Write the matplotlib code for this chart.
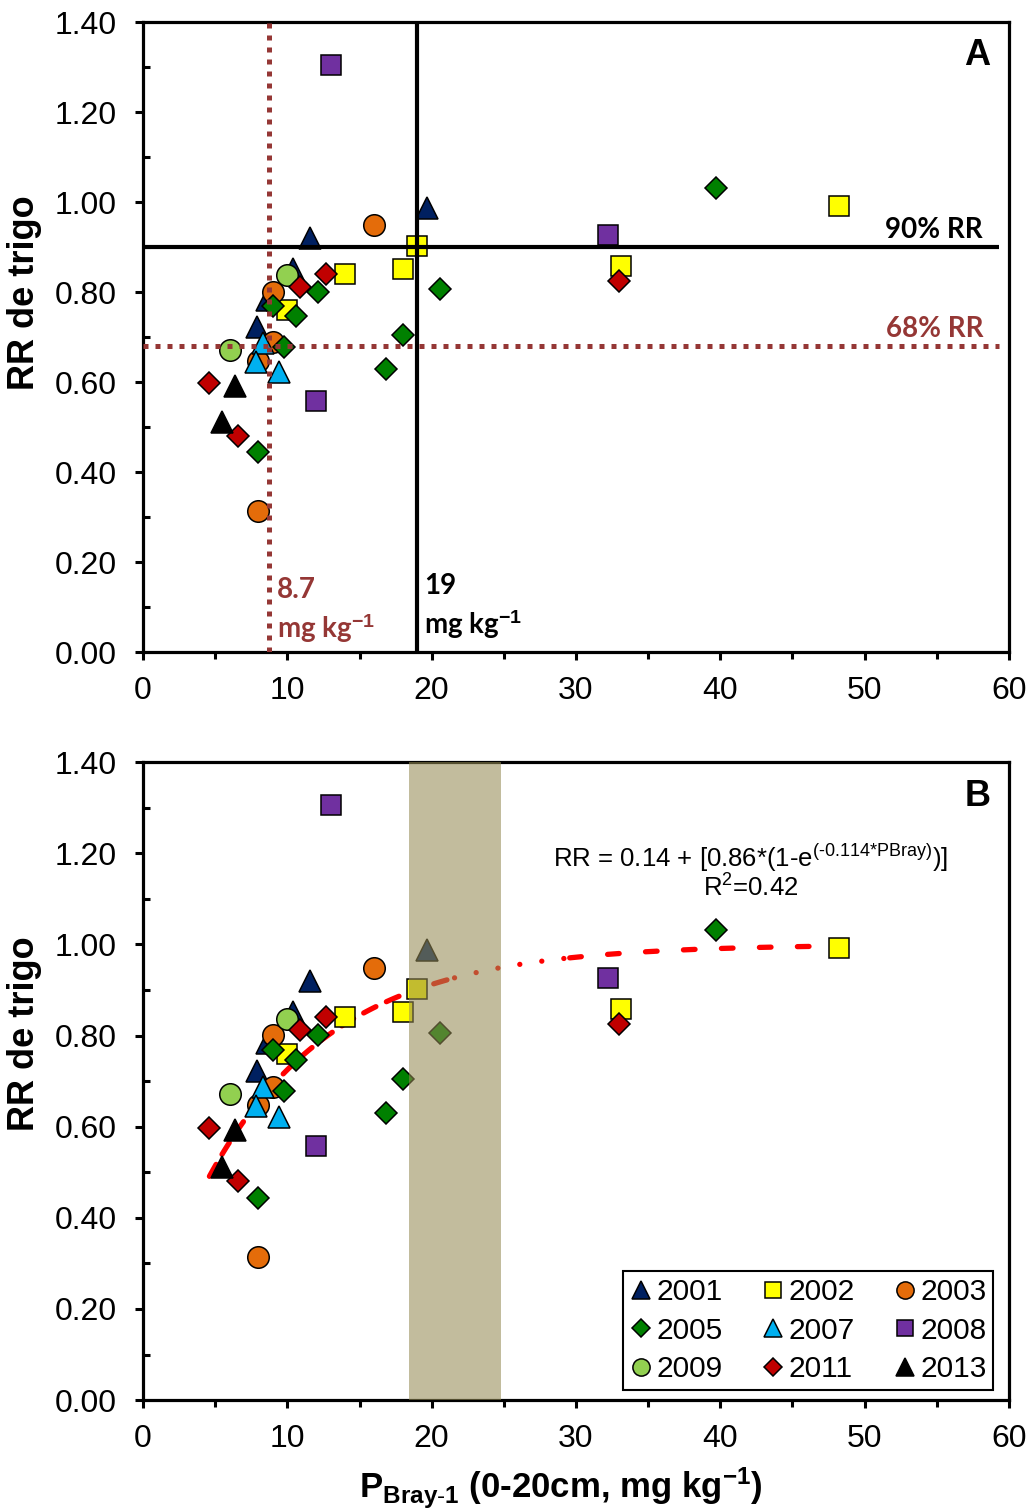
import matplotlib.pyplot as plt
from matplotlib.ticker import MultipleLocator, FormatStrFormatter
from matplotlib.lines import Line2D
import numpy as np

plt.rcParams['font.family'] = ['Liberation Sans', 'DejaVu Sans']
plt.rcParams['mathtext.fontset'] = 'custom'
plt.rcParams['mathtext.rm'] = 'Liberation Sans'
plt.rcParams['mathtext.it'] = 'Liberation Sans'
plt.rcParams['mathtext.bf'] = 'Liberation Sans:bold'
plt.rcParams['mathtext.default'] = 'regular'

# soil P Bray-1 (mg/kg) and relative yield of wheat, by campaign
p_2001 = [19.7, 11.6, 10.4, 8.6, 7.9]
rr_2001 = [0.987, 0.920, 0.852, 0.783, 0.723]
p_2002 = [19.0, 18.0, 14.0, 10.0, 48.2, 33.1]
rr_2002 = [0.903, 0.851, 0.841, 0.759, 0.992, 0.858]
p_2003 = [16.0, 9.0, 9.0, 8.0, 8.0]
rr_2003 = [0.949, 0.801, 0.688, 0.647, 0.314]
p_2005 = [20.6, 12.1, 9.0, 10.6, 9.8, 18.0, 16.8, 8.0, 39.7]
rr_2005 = [0.806, 0.801, 0.768, 0.746, 0.678, 0.704, 0.629, 0.444, 1.031]
p_2007 = [8.3, 7.8, 9.4]
rr_2007 = [0.686, 0.645, 0.622]
p_2008 = [13.0, 12.0, 32.2]
rr_2008 = [1.305, 0.558, 0.926]
p_2009 = [10.0, 6.0]
rr_2009 = [0.837, 0.671]
p_2011 = [12.7, 10.9, 4.6, 6.6, 33.0]
rr_2011 = [0.840, 0.812, 0.598, 0.481, 0.825]
p_2013 = [6.4, 5.5]
rr_2013 = [0.592, 0.512]

years = ['2001', '2002', '2003', '2005', '2007', '2008', '2009', '2011', '2013']
p_vals = [p_2001, p_2002, p_2003, p_2005, p_2007, p_2008, p_2009, p_2011, p_2013]
rr_vals = [rr_2001, rr_2002, rr_2003, rr_2005, rr_2007, rr_2008, rr_2009, rr_2011, rr_2013]
markers = ['^', 's', 'o', 'D', '^', 's', 'o', 'D', '^']
colors = ['#002060', '#FFFF00', '#E46C0A', '#008000', '#00B0F0',
          '#7030A0', '#92D050', '#C00000', '#000000']
sizes = {'^': 16, 's': 15, 'o': 15.5, 'D': 11}

# critical thresholds
p_crit_68 = 8.7
p_crit_90 = 19
rr_68 = 0.68
rr_90 = 0.90

# Mitscherlich fit
a_fit, b_fit, c_fit = 0.14, 0.86, 0.114
r2_fit = 0.42

brown = '#953735'

fig = plt.figure(figsize=(10.32, 15.10), dpi=100)
axA = fig.add_axes([0.1386, 0.5682, 0.8391, 0.4172])
axB = fig.add_axes([0.1386, 0.0728, 0.8391, 0.4225])


def style_axes(ax):
    ax.set_xlim(0, 60)
    ax.set_ylim(0, 1.40)
    ax.xaxis.set_major_locator(MultipleLocator(10))
    ax.xaxis.set_minor_locator(MultipleLocator(5))
    ax.yaxis.set_major_locator(MultipleLocator(0.2))
    ax.yaxis.set_minor_locator(MultipleLocator(0.1))
    ax.yaxis.set_major_formatter(FormatStrFormatter('%.2f'))
    for s in ax.spines.values():
        s.set_linewidth(2.3)
    ax.tick_params(axis='both', which='major', direction='out', length=6,
                   width=2.2, labelsize=23)
    ax.tick_params(axis='y', which='major', pad=13)
    ax.tick_params(axis='x', which='major', pad=11)
    ax.tick_params(axis='x', which='minor', direction='out', length=5, width=2.2)
    ax.tick_params(axis='y', which='minor', direction='in', length=5, width=2.2)
    ax.set_ylabel('RR de trigo', fontsize=26, fontweight='bold')


def draw_points(ax, z=3):
    for p, rr, m, c in zip(p_vals, rr_vals, markers, colors):
        ax.plot(p, rr, linestyle='none', marker=m, markersize=sizes[m],
                markerfacecolor=c, markeredgecolor='black',
                markeredgewidth=1.1, zorder=z)


# ---- panel A ----
style_axes(axA)
draw_points(axA)
dot = (0, (1, 1.4))
axA.hlines(rr_90, 0, 59.3, colors='black', linewidth=3, zorder=6, clip_on=False)
axA.vlines(p_crit_90, 0, 1.40, colors='black', linewidth=3, zorder=6)
axA.hlines(rr_68, 0, 59.3, colors=brown, linewidth=3.6, linestyles=dot, zorder=6)
axA.vlines(p_crit_68, 0, 1.40, colors=brown, linewidth=3.6, linestyles=dot, zorder=6)

lbl = dict(family='Lato', fontweight='bold', fontsize=20)
axA.text(58.2, rr_90 + 0.01, '90% RR', ha='right', va='bottom', **lbl)
axA.text(58.2, rr_68 + 0.01, '68% RR', ha='right', va='bottom', color=brown, **lbl)
axA.text(p_crit_68 + 0.55, 0.138, '%.1f' % p_crit_68, color=brown, va='center', **lbl)
axA.text(p_crit_68 + 0.55, 0.053, r'mg kg$^{\mathbf{-1}}$', color=brown,
         va='center', **lbl)
axA.text(p_crit_90 + 0.5, 0.147, '%d' % p_crit_90, va='center', **lbl)
axA.text(p_crit_90 + 0.5, 0.06, r'mg kg$^{\mathbf{-1}}$', va='center', **lbl)
axA.text(57.8, 1.325, 'A', fontsize=26, fontweight='bold', ha='center', va='center')
axA.yaxis.set_label_coords(-0.117, 0.57)

# ---- panel B ----
style_axes(axB)
draw_points(axB)
xf = np.linspace(4.6, 48, 300)
yf = a_fit + b_fit * (1 - np.exp(-c_fit * xf))
seg1 = xf <= 21.5
seg2 = (xf >= 21.5) & (xf <= 29.5)
seg3 = xf >= 29.5
axB.plot(xf[seg1], yf[seg1], color='red', linewidth=3.8,
         dashes=(2.6, 2.2), dash_capstyle='round', zorder=2)
axB.plot(xf[seg2], yf[seg2], color='red', linewidth=3.8,
         dashes=(0.01, 4.2), dash_capstyle='round', zorder=2)
axB.plot(xf[seg3], yf[seg3], color='red', linewidth=3.8,
         dashes=(2.2, 5), dash_capstyle='round', zorder=2)
axB.axvspan(18.4, 24.8, color='#948A54', alpha=0.57, lw=0, zorder=5)

axB.text(42.1, 1.189,
         r'RR = %.2f + [%.2f*(1-e$^{(\text{-}%.3f{*}PBray)}$)]' % (a_fit, b_fit, c_fit),
         fontsize=18.5, ha='center', va='center')
axB.text(42.1, 1.124, 'R$^2$=%.2f' % r2_fit, fontsize=18.5, ha='center', va='center')
axB.text(57.8, 1.325, 'B', fontsize=26, fontweight='bold', ha='center', va='center')
axB.yaxis.set_label_coords(-0.117, 0.575)
fig.text(561 / 1032, 1 - 1488 / 1510,
         r'P$_{\mathbf{Bray\text{-}1}}$ (0-20cm, mg kg$^{\mathbf{-1}}$)',
         fontsize=25, fontweight='bold', ha='center', va='center')

# legend laid out row by row
handles = [Line2D([], [], linestyle='none', marker=m, markersize=sizes[m] * 0.8,
                  markerfacecolor=c, markeredgecolor='black', markeredgewidth=1.1)
           for m, c in zip(markers, colors)]
order = [0, 3, 6, 1, 4, 7, 2, 5, 8]
leg = axB.legend([handles[i] for i in order], [years[i] for i in order],
                 ncol=3, loc='lower right', bbox_to_anchor=(0.9815, 0.0157),
                 fontsize=21.5, frameon=True, fancybox=False, edgecolor='black',
                 framealpha=1, handlelength=0.8, handletextpad=0.1,
                 columnspacing=1.3, labelspacing=0.36, borderpad=0.22,
                 borderaxespad=0)
leg.get_frame().set_linewidth(1.5)
leg.set_zorder(10)

fig.savefig('out.png', dpi=100)
